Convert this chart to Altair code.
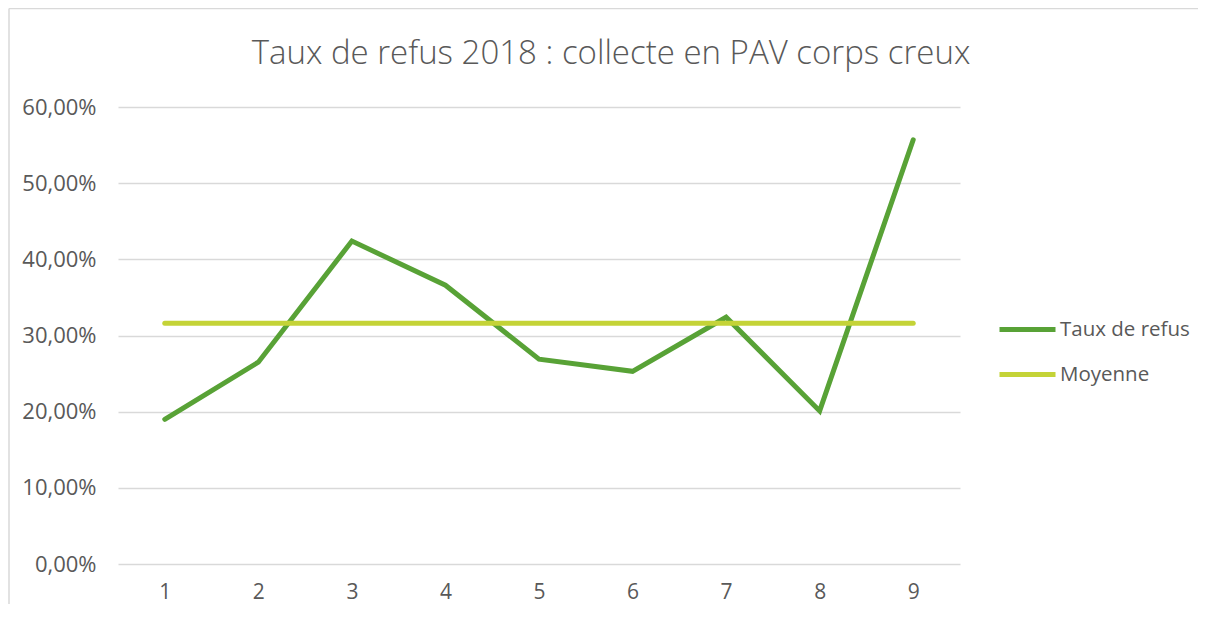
import altair as alt
import pandas as pd

points = ["1", "2", "3", "4", "5", "6", "7", "8", "9"]
taux_refus = [0.190, 0.265, 0.424, 0.366, 0.269, 0.253, 0.324, 0.201, 0.557]
moyenne = [0.316, 0.316, 0.316, 0.316, 0.316, 0.316, 0.316, 0.316, 0.316]
series = ["Taux de refus", "Moyenne"]
colors = ["#58a236", "#c4d337"]
y_ticks = [0, 0.1, 0.2, 0.3, 0.4, 0.5, 0.6]
title_text = ["Taux de refus 2018 : collecte en PAV corps creux"]

rows = []
for p, v in zip(points, taux_refus):
    rows.append({"point": p, "valeur": v, "serie": series[0]})
for p, v in zip(points, moyenne):
    rows.append({"point": p, "valeur": v, "serie": series[1]})
df = pd.DataFrame(rows)

FONT = "Open Sans"
GREY = "#595959"

lines = alt.Chart(df).mark_line(strokeWidth=5, strokeCap="round", strokeJoin="miter").encode(
    x=alt.X("point:O", sort=points, title=None,
            scale=alt.Scale(type="point", padding=0.5),
            axis=alt.Axis(labelAngle=0, ticks=False, domain=False, grid=False,
                          labelPadding=17, labelFontSize=21, labelColor=GREY, labelFont=FONT)),
    y=alt.Y("valeur:Q", title=None,
            scale=alt.Scale(domain=[0, 0.6], nice=False),
            axis=alt.Axis(values=y_ticks, ticks=False, domain=False, grid=True,
                          gridColor="#d9d9d9", gridWidth=1.5,
                          labelExpr="replace(format(datum.value, '.2%'), '.', ',')",
                          labelPadding=22, labelFontSize=22, labelColor=GREY, labelFont=FONT)),
    color=alt.Color("serie:N", sort=series,
                    scale=alt.Scale(domain=series, range=colors),
                    legend=alt.Legend(title=None, orient="none", legendX=879, legendY=192,
                                      symbolType="stroke", symbolSize=3136, symbolStrokeWidth=5,
                                      labelFontSize=20.5, labelColor=GREY, labelFont=FONT,
                                      labelOffset=2, rowPadding=4)),
    order=alt.Order("point:O"),
)

title_df = pd.DataFrame({"t": title_text})
title = alt.Chart(title_df).mark_text(
    font=FONT, fontSize=33, fontWeight=300, color=GREY, align="center", baseline="alphabetic"
).encode(x=alt.value(493), y=alt.value(-43), text="t:N")

border_df = pd.DataFrame({"a": [0]})
top_border = alt.Chart(border_df).mark_rule(color="#d9d9d9", strokeWidth=1.5).encode(
    x=alt.value(-109), x2=alt.value(1090), y=alt.value(-98.5)
)
left_border = alt.Chart(border_df).mark_rule(color="#d9d9d9", strokeWidth=1.5).encode(
    x=alt.value(-109), y=alt.value(-98.5), y2=alt.value(520)
)

chart = alt.layer(top_border, left_border, title, lines).properties(
    width=842,
    height=457,
    padding={"left": 110, "top": 99, "right": 238, "bottom": 40},
    autosize=alt.AutoSizeParams(type="none"),
).configure(background="white").configure_view(stroke=None)

chart.save("out.html", embed_options={"renderer": "svg", "actions": False})
